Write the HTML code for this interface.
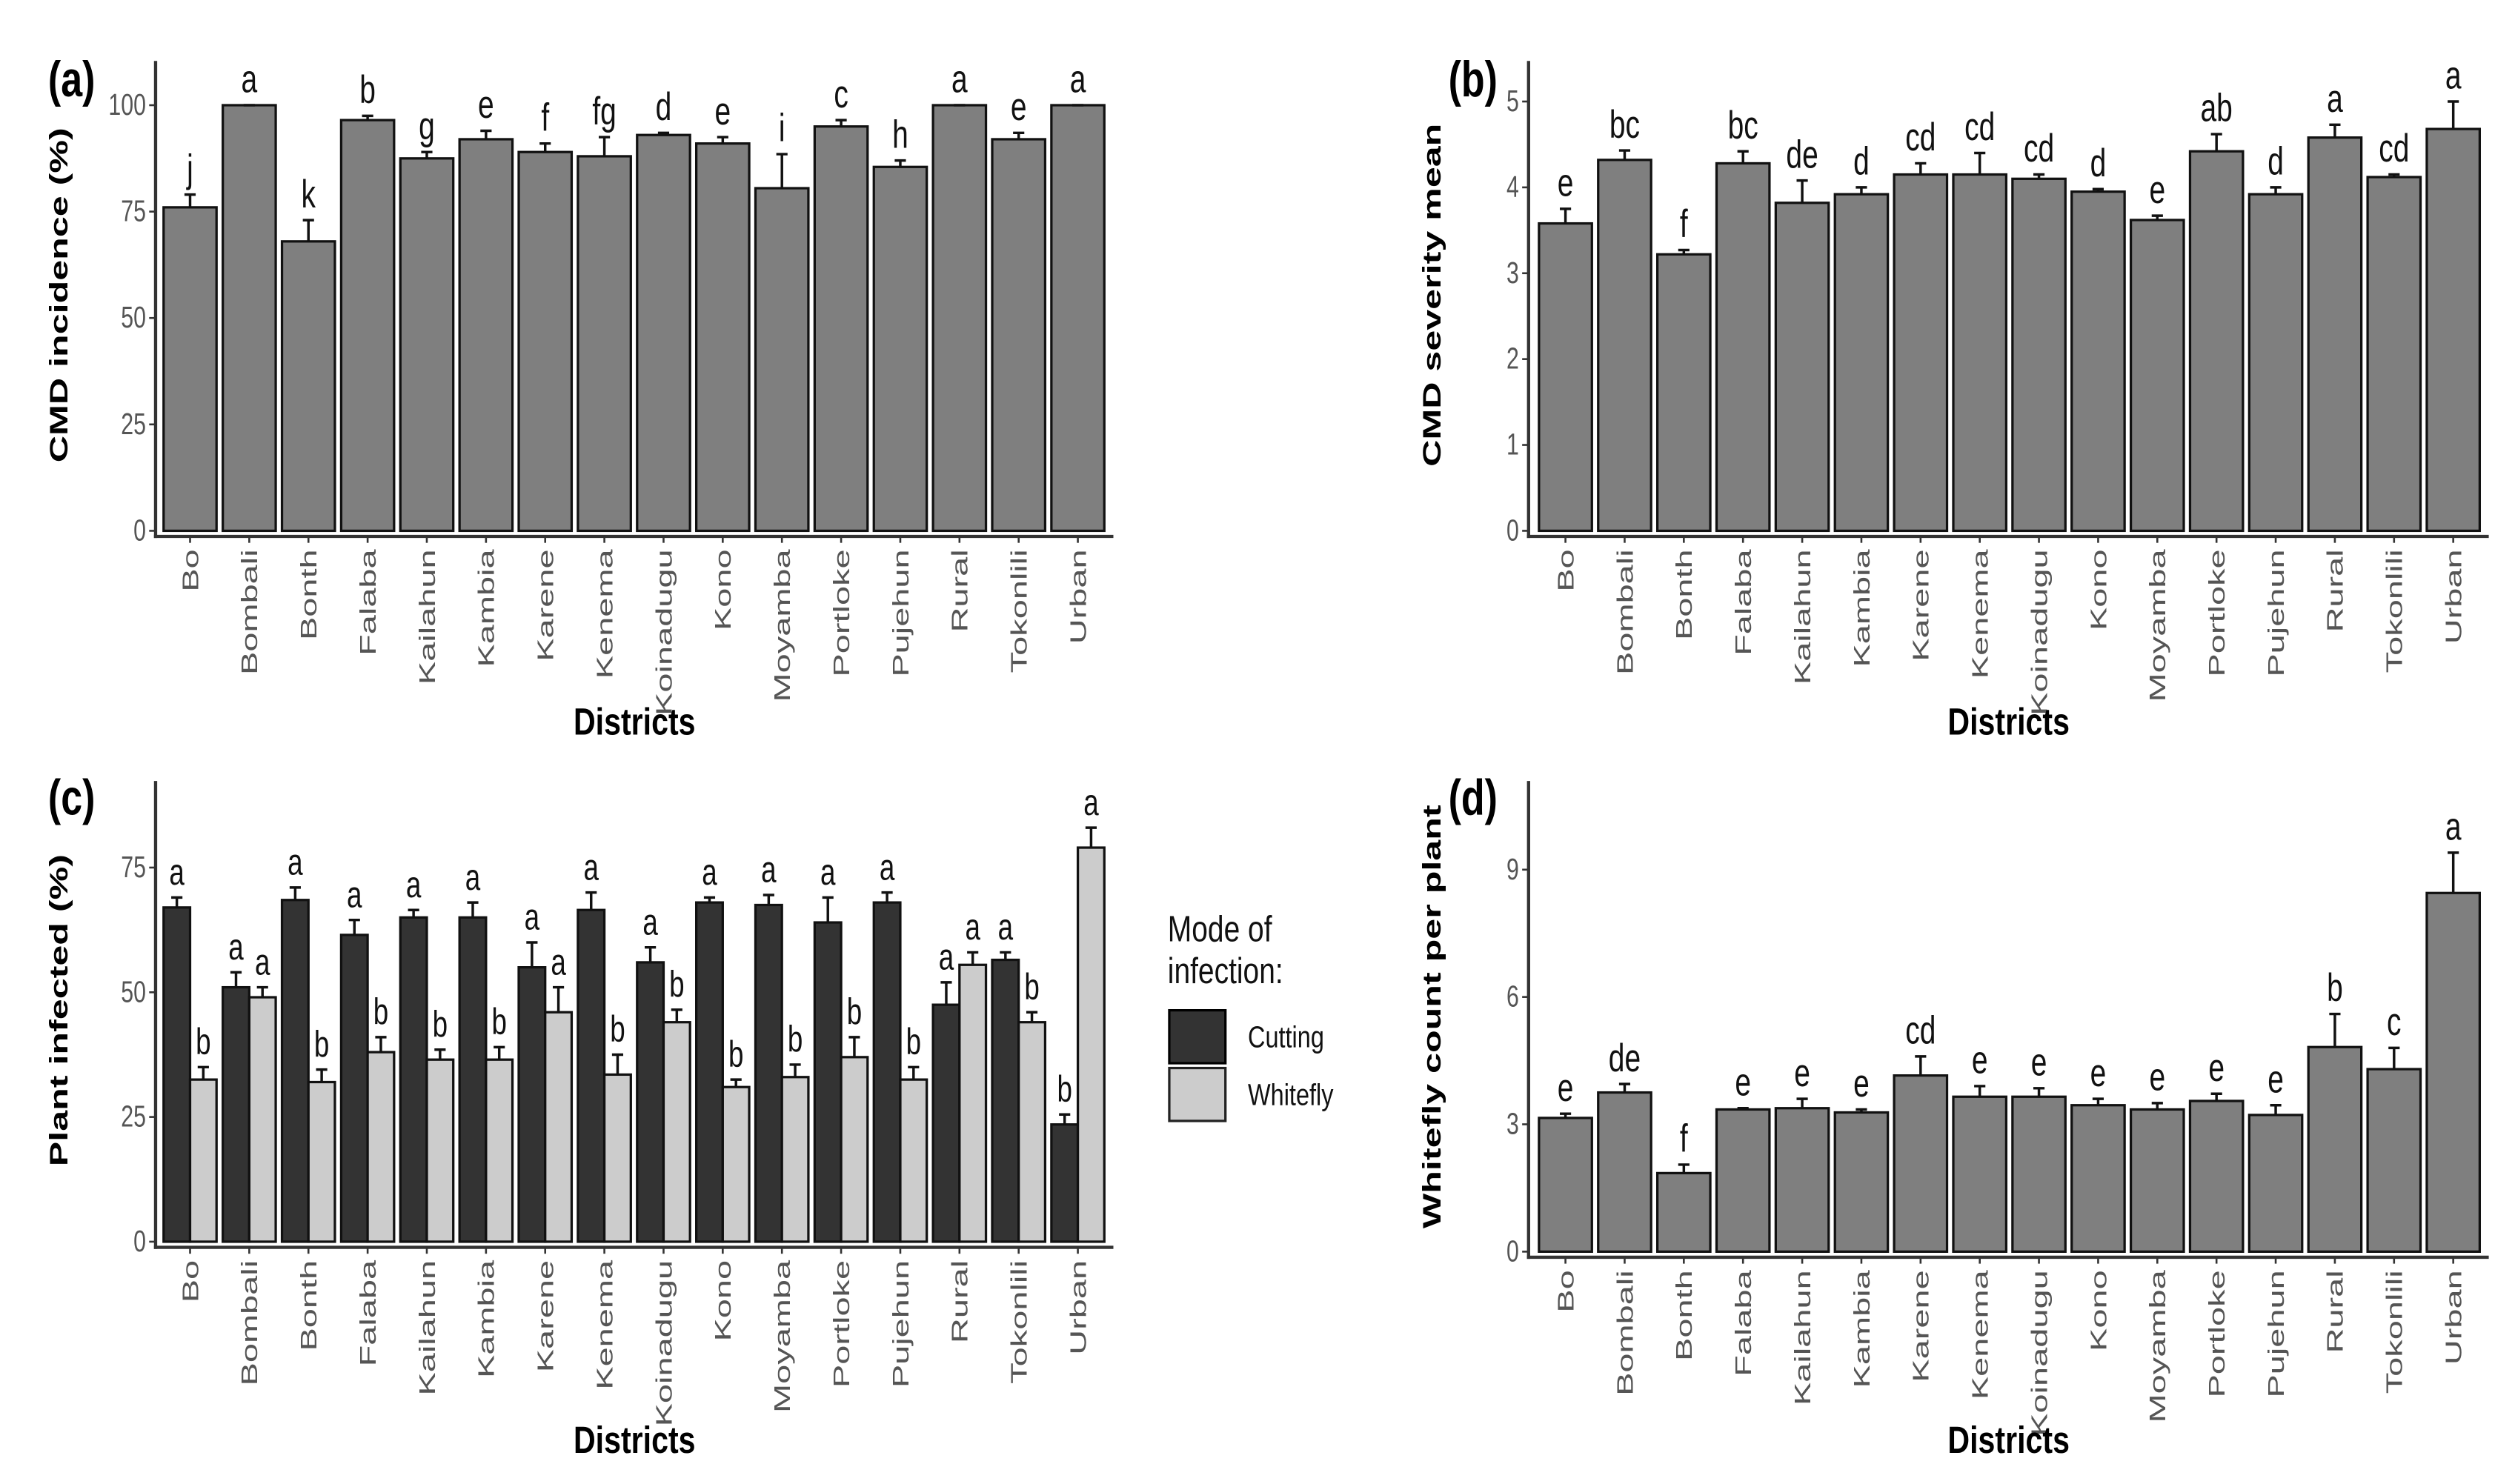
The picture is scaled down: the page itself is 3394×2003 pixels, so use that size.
<!DOCTYPE html>
<html><head><meta charset="utf-8"><style>
html,body{margin:0;padding:0;background:#fff;}
svg{display:block;font-family:"Liberation Sans",Arial,sans-serif;}
</style></head><body>
<svg id="chart" width="3394" height="2003" viewBox="0 0 1568 925.4" preserveAspectRatio="none" xmlns="http://www.w3.org/2000/svg">
<rect x="0" y="0" width="1568" height="925.4" fill="#fff"/>
<g id="legend">
<g transform="translate(728,587) scale(1,1.25)"><text x="0" y="0" font-size="18" fill="#111">Mode of</text></g>
<g transform="translate(728,613) scale(1,1.25)"><text x="0" y="0" font-size="18" fill="#111">infection:</text></g>
<rect x="729" y="630" width="35" height="33" fill="#333333" stroke="#000" stroke-width="1.5"/>
<rect x="729" y="666" width="35" height="33" fill="#cccccc" stroke="#222" stroke-width="1.5"/>
<g transform="translate(778,653) scale(1,1.25)"><text x="0" y="0" font-size="15" fill="#111">Cutting</text></g>
<g transform="translate(778,689) scale(1,1.25)"><text x="0" y="0" font-size="15" fill="#111">Whitefly</text></g>
</g>
</svg>
<script>
const districts = ["Bo","Bombali","Bonth","Falaba","Kailahun","Kambia","Karene","Kenema","Koinadugu","Kono","Moyamba","Portloke","Pujehun","Rural","Tokonlili","Urban"];
const incidenceMean = [76,100,68,96.5,87.5,92,89,88,93,91,80.5,95,85.5,100,92,100];
const incidenceErr = [3,0,5,1,1.5,2,2,4.5,0.5,1.5,8,1.5,1.5,0,1.5,0];
const incidenceLetters = ["j","a","k","b","g","e","f","fg","d","e","i","c","h","a","e","a"];
const incidenceTicks = [0,25,50,75,100];
const severityMean = [3.58,4.32,3.22,4.28,3.82,3.92,4.15,4.15,4.1,3.95,3.62,4.42,3.92,4.58,4.12,4.68];
const severityErr = [0.17,0.11,0.05,0.14,0.26,0.08,0.13,0.25,0.05,0.03,0.05,0.2,0.08,0.15,0.03,0.32];
const severityLetters = ["e","bc","f","bc","de","d","cd","cd","cd","d","e","ab","d","a","cd","a"];
const severityTicks = [0,1,2,3,4,5];
const cuttingMean = [67,51,68.5,61.5,65,65,55,66.5,56,68,67.5,64,68,47.5,56.5,23.5];
const cuttingErr = [2,3,2.5,3,1.5,3,5,3.5,3,1,2,5,2,4.5,1.5,2];
const whiteflyMean = [32.5,49,32,38,36.5,36.5,46,33.5,44,31,33,37,32.5,55.5,44,79];
const whiteflyErr = [2.5,2,2.5,3,2,2.5,5,4,2.5,1.5,2.5,4,2.5,2.5,2,4];
const cuttingLetters = ["a","a","a","a","a","a","a","a","a","a","a","a","a","a","a","b"];
const whiteflyLetters = ["b","a","b","b","b","b","a","b","b","b","b","b","b","a","b","a"];
const infectedTicks = [0,25,50,75];
const countMean = [3.15,3.75,1.85,3.35,3.38,3.28,4.15,3.65,3.65,3.45,3.35,3.55,3.22,4.82,4.3,8.45];
const countErr = [0.1,0.2,0.2,0.03,0.22,0.07,0.45,0.25,0.2,0.15,0.15,0.17,0.23,0.78,0.5,0.95];
const countLetters = ["e","de","f","e","e","e","cd","e","e","e","e","e","e","b","c","a"];
const countTicks = [0,3,6,9];

const NS = "http://www.w3.org/2000/svg";
const svg = document.getElementById("chart");
function mk(tag, attrs, parent){
  const e = document.createElementNS(NS, tag);
  for (const k in attrs) e.setAttribute(k, attrs[k]);
  (parent||svg).appendChild(e);
  return e;
}
function txt(parent, x, y, sy, rot, attrs){
  const w = mk("g", {transform:`translate(${x},${y}) scale(1,${sy})` + (rot ? " rotate(-90)" : "")}, parent);
  return mk("text", Object.assign({x:0, y:0}, attrs), w);
}

function panel(cfg){
  const g = mk("g", {});
  
  
  const n = districts.length;
  const step = cfg.step;
  const xC = i => cfg.x0 + i*step;
  const yS = v => cfg.y0 - (cfg.y0 - cfg.yRef) * v / cfg.vRef;
  const bottom = cfg.y0 + 3.5;
  const right = xC(n-1) + 0.6*step;
  const yAx = mk("line", {x1:cfg.ax, y1:cfg.top, x2:cfg.ax, y2:bottom+1, stroke:"#333", "stroke-width":2}, g);
  
  
  const xAx = mk("line", {x1:cfg.ax-1, y1:bottom, x2:right, y2:bottom, stroke:"#333", "stroke-width":2}, g);
  
  
  cfg.ticks.forEach(t => {
    const y = yS(t);
    const tl = mk("line", {x1:cfg.ax-4, y1:y, x2:cfg.ax, y2:y, stroke:"#333", "stroke-width":1.2}, g);
    
    
    const tx = txt(g, cfg.ax-6, y+6, 1.35, false, {"text-anchor":"end", "font-size":14, fill:"#555"});
    
    
    tx.textContent = t;
  });
  districts.forEach((d,i) => {
    const x = xC(i);
    const tl = mk("line", {x1:x, y1:bottom, x2:x, y2:bottom+4, stroke:"#333", "stroke-width":1.2}, g);
    
    
    const tx = txt(g, x+5, bottom+8, 1.55, true, {"text-anchor":"end", "font-size":14, fill:"#555"});
    
    
    tx.textContent = d;
  });
  cfg.series.forEach((s, si) => {
    const bw = cfg.barW / cfg.series.length;
    districts.forEach((d,i) => {
      const left = xC(i) - cfg.barW/2 + si*bw;
      const cx = left + bw/2;
      const yt = yS(s.mean[i]);
      const r = mk("rect", {x:left, y:yt, width:bw, height:cfg.y0-yt, fill:s.fill, stroke:"#111", "stroke-width":1.5}, g);
      
      
      const ye = yS(s.mean[i] + s.err[i]);
      const el = mk("path", {d:`M${cx},${yt} V${ye} M${cx-3.5},${ye} H${cx+3.5}`, stroke:"#111", "stroke-width":1.6, fill:"none"}, g);
      
      
      const lt = txt(g, cx, ye-8, 1.35, false, {"text-anchor":"middle", "font-size":cfg.letterSize, fill:"#111"});
      
      
      lt.textContent = s.letters[i];
    });
  });
  const xt = txt(g, (cfg.ax+right)/2, cfg.xTitleY, 1.25, false, {"text-anchor":"middle", "font-size":19, "font-weight":"bold", fill:"#000"});
  
  
  xt.textContent = "Districts";
  const ytl = txt(g, cfg.yTitleX, cfg.yTitleY, 1.45, true, {"text-anchor":"middle", "font-size":16, "font-weight":"bold", fill:"#000"});
  
  
  ytl.textContent = cfg.yTitle;
  const tag = txt(g, cfg.tagX, cfg.tagY, 1.3, false, {"font-size":24, "font-weight":"bold", fill:"#000"});
  
  
  tag.textContent = cfg.tag;
}

panel({name:"panel-a-incidence", ax:97, x0:118.5, step:36.9, y0:331, yRef:65.6, vRef:100, top:38, barW:33, ticks:incidenceTicks,
  series:[{key:"incidence", mean:incidenceMean, err:incidenceErr, letters:incidenceLetters, fill:"#7f7f7f"}],
  letterSize:18, xTitleY:458, yTitle:"CMD incidence (%)", yTitleX:42, yTitleY:184, tag:"(a)", tagX:30, tagY:60});
panel({name:"panel-b-severity", ax:953, x0:976, step:36.9, y0:331, yRef:63.3, vRef:5, top:38, barW:33, ticks:severityTicks,
  series:[{key:"severity", mean:severityMean, err:severityErr, letters:severityLetters, fill:"#7f7f7f"}],
  letterSize:18, xTitleY:458, yTitle:"CMD severity mean", yTitleX:898, yTitleY:184, tag:"(b)", tagX:903, tagY:60});
panel({name:"panel-c-infected", ax:97, x0:118.5, step:36.9, y0:774.3, yRef:541, vRef:75, top:487, barW:33, ticks:infectedTicks,
  series:[{key:"cutting", mean:cuttingMean, err:cuttingErr, letters:cuttingLetters, fill:"#333333"},
          {key:"whitefly", mean:whiteflyMean, err:whiteflyErr, letters:whiteflyLetters, fill:"#cccccc"}],
  letterSize:17, xTitleY:906, yTitle:"Plant infected (%)", yTitleX:42, yTitleY:630, tag:"(c)", tagX:30, tagY:508});
panel({name:"panel-d-whitefly-count", ax:953, x0:976, step:36.9, y0:780.5, yRef:542.3, vRef:9, top:487, barW:33, ticks:countTicks,
  series:[{key:"count", mean:countMean, err:countErr, letters:countLetters, fill:"#7f7f7f"}],
  letterSize:18, xTitleY:906, yTitle:"Whitefly count per plant", yTitleX:898, yTitleY:634, tag:"(d)", tagX:903, tagY:508});
</script>
</body></html>
